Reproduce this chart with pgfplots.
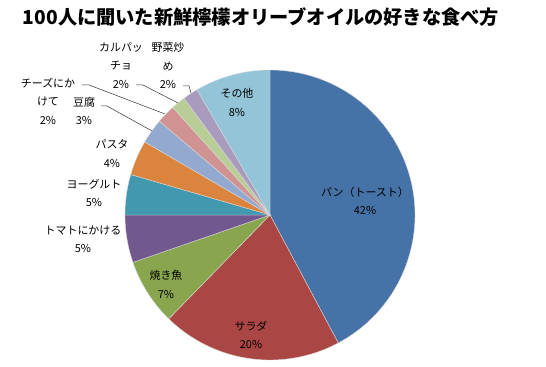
\documentclass[border=0pt]{standalone}
\usepackage{pgfplots}
\pgfplotsset{compat=1.18}
\usepackage{fontspec}
\setmainfont{Noto Sans CJK JP}
\definecolor{c1}{HTML}{4572A7}
\definecolor{c2}{HTML}{AA4643}
\definecolor{c3}{HTML}{89A54E}
\definecolor{c4}{HTML}{71588F}
\definecolor{c5}{HTML}{4198AF}
\definecolor{c6}{HTML}{DB843D}
\definecolor{c7}{HTML}{93A9CF}
\definecolor{c8}{HTML}{D19392}
\definecolor{c9}{HTML}{B9CD96}
\definecolor{c10}{HTML}{A99BBD}
\definecolor{c11}{HTML}{93C4D8}
\tikzset{lbl/.style={align=center, font=\fontsize{11}{18.5}\selectfont, inner sep=0pt, text=black}}
% slice: #1 cumulative start (%), #2 value (%), #3 colour
\newcommand\slice[3]{%
  \pgfmathsetmacro\angA{90-3.6*(#1+#2)}%
  \pgfmathsetmacro\angB{90-3.6*(#1)}%
  \edef\doslice{\noexpand\addplot[fill=#3, draw=white!85!black, line width=0.4pt, domain=\angA:\angB, samples=90]
    ({270+145*cos(x)},{152+145*sin(x)}) -- (270,152) -- cycle;}%
  \doslice}
\begin{document}
\begin{tikzpicture}
\begin{axis}[
  width=546bp, height=367bp, scale only axis,
  xmin=0, xmax=546, ymin=0, ymax=367,
  hide axis, clip=false,
]
% values (%): 42.2, 20.1, 7.4, 5.3, 4.5, 3.9, 2.8, 2.1, 1.6, 1.7, 8.4
\slice{0}{42.2}{c1}
\slice{42.2}{20.1}{c2}
\slice{62.3}{7.4}{c3}
\slice{69.7}{5.3}{c4}
\slice{75.0}{4.5}{c5}
\slice{79.5}{3.9}{c6}
\slice{83.4}{2.8}{c7}
\slice{86.2}{2.1}{c8}
\slice{88.3}{1.6}{c9}
\slice{89.9}{1.7}{c10}
\slice{91.6}{8.4}{c11}

\node[font=\fontsize{19.3}{21}\selectfont\bfseries, inner sep=0pt] at (axis cs:261,350) {100人に聞いた新鮮檸檬オリーブオイルの好きな食べ方};

\node[lbl] at (axis cs:365,166) {パン（トースト）\\42\%};
\node[lbl] at (axis cs:251,32) {サラダ\\20\%};
\node[lbl] at (axis cs:166,82.5) {焼き魚\\7\%};
\node[lbl] at (axis cs:83,127.5) {トマトにかける\\5\%};
\node[lbl] at (axis cs:94,174) {ヨーグルト\\5\%};
\node[lbl] at (axis cs:112,213.5) {パスタ\\4\%};
\node[lbl] at (axis cs:84,256) {豆腐\\3\%};
\node[lbl] at (axis cs:48,266) {チーズにか\\けて\\2\%};
\node[lbl] at (axis cs:121,301.5) {カルパッ\\チョ\\2\%};
\node[lbl] at (axis cs:168,301.5) {野菜炒\\め\\2\%};
\node[lbl] at (axis cs:237,264.5) {その他\\8\%};

\draw[black!80, line width=0.5pt] (axis cs:82,282) -- (axis cs:89,282) -- (axis cs:165,253);
\draw[black!80, line width=0.5pt] (axis cs:101,261) -- (axis cs:107,261) -- (axis cs:152,236);
\draw[black!80, line width=0.5pt] (axis cs:136,282) -- (axis cs:143,282) -- (axis cs:178,264);
\draw[black!80, line width=0.5pt] (axis cs:183,281) -- (axis cs:189,281) -- (axis cs:191,274);
\end{axis}
\pgfresetboundingbox
\path (current axis.south west) rectangle (current axis.north east);
\end{tikzpicture}
\end{document}
